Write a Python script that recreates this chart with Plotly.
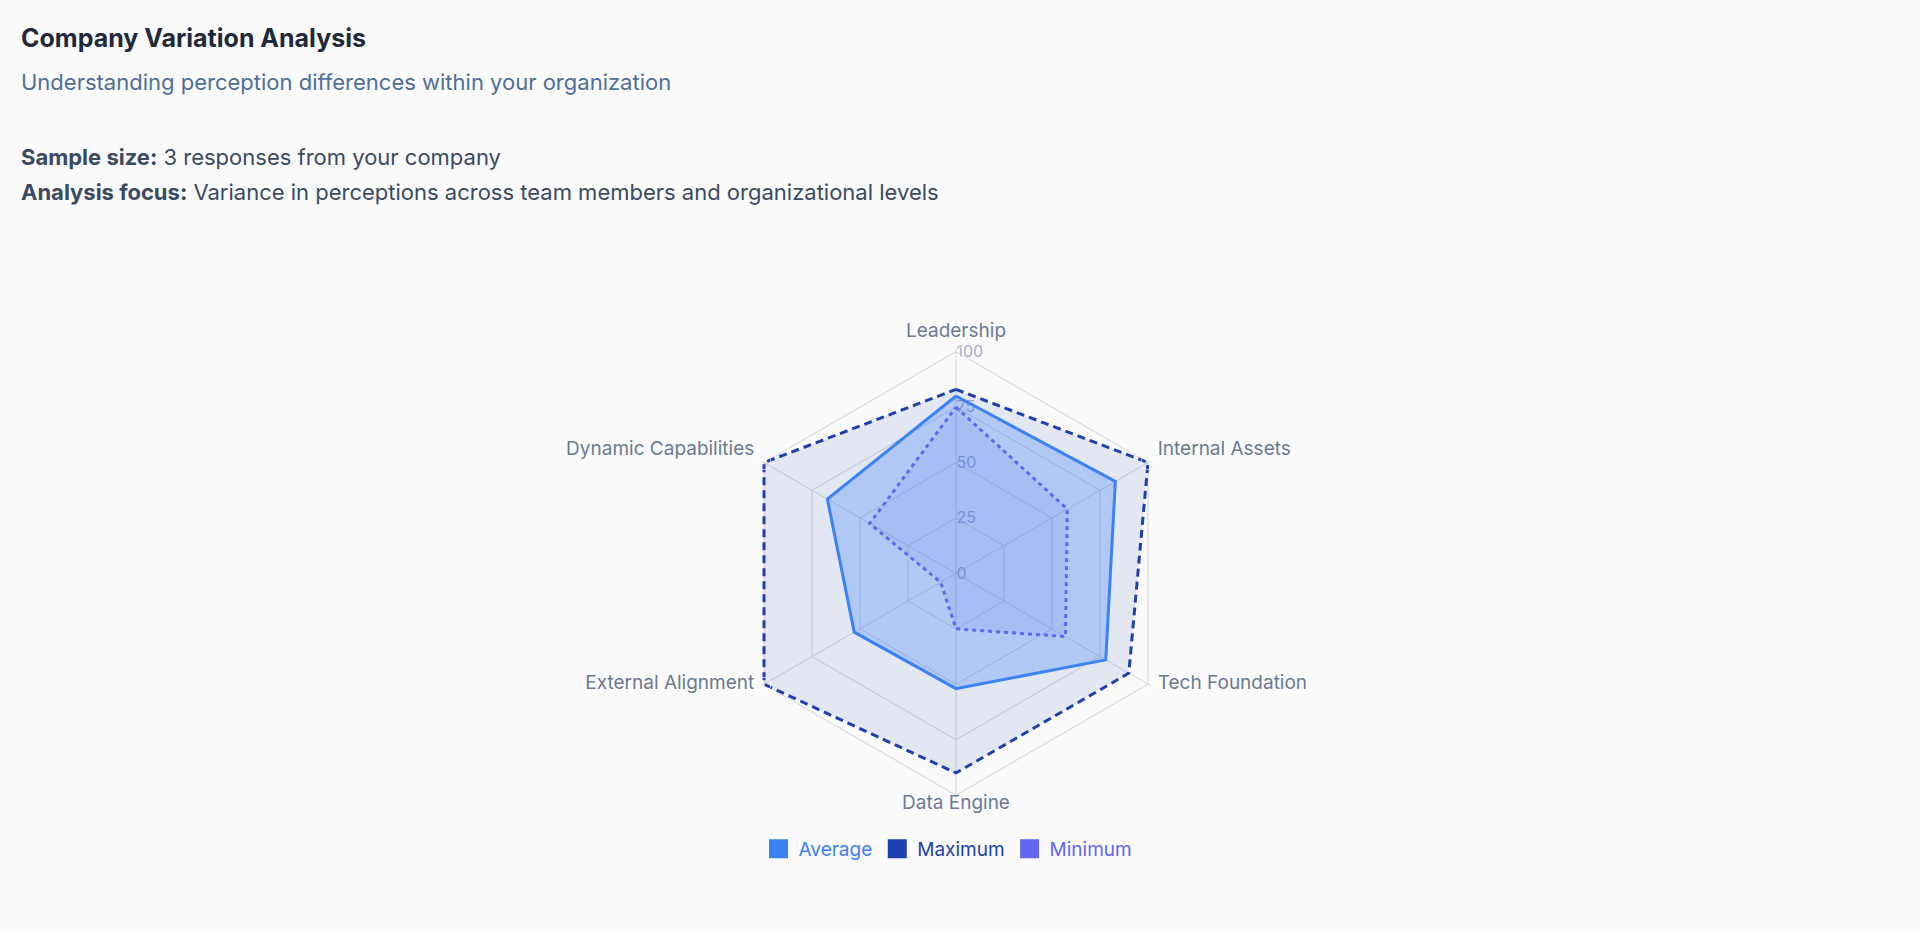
import plotly.graph_objects as go

categories = ["Leadership", "Internal Assets", "Tech Foundation", "Data Engine",
              "External Alignment", "Dynamic Capabilities"]
average = [80, 83, 78, 52, 53, 67]
maximum = [83, 100, 90, 90, 100, 100]
minimum = [75, 58, 57, 25, 8, 45]
radial_ticks = [0, 25, 50, 75, 100]

series_names = ["Average", "Maximum", "Minimum"]
series_colors = ["#3b82f6", "#1e40af", "#6366f1"]

# where each category label sits relative to its spoke tip
label_positions = ["top center", "middle right", "middle right", "bottom center",
                   "middle left", "middle left"]
label_raised = [False, True, False, False, False, True]   # lift label half a line
label_gap = [14, 14, 14, 0, 14, 14]                        # spacing from spoke tip

W, H = 1920, 931
FONT = "Inter, 'Noto Sans', sans-serif"
R_MAX = radial_ticks[-1]
R_PAD = 1.5          # small headroom so lines on the outer ring are not clipped

def closed(v):
    return list(v) + [v[0]]

theta = closed(categories)
label_texts = [c + ("<br>\u00a0" if up else "") for c, up in zip(categories, label_raised)]

fig = go.Figure()

fig.add_trace(go.Scatterpolar(
    r=closed(maximum), theta=theta, mode="lines", fill="toself",
    fillcolor="rgba(30,64,175,0.10)",
    line=dict(color="#1e40af", width=3, dash="8px,5px"),
    showlegend=False, name="Maximum", hoverinfo="skip"))
fig.add_trace(go.Scatterpolar(
    r=closed(average), theta=theta, mode="lines", fill="toself",
    fillcolor="rgba(59,130,246,0.30)",
    line=dict(color="#3b82f6", width=3),
    showlegend=False, name="Average", hoverinfo="skip"))
fig.add_trace(go.Scatterpolar(
    r=closed(minimum), theta=theta, mode="lines", fill="toself",
    fillcolor="rgba(99,102,241,0.10)",
    line=dict(color="#6366f1", width=3, dash="4px,4px"),
    showlegend=False, name="Minimum", hoverinfo="skip"))

# category labels at the spoke tips
fig.add_trace(go.Scatterpolar(
    r=[R_MAX] * len(categories), theta=categories, mode="markers+text",
    text=label_texts, textposition=label_positions, cliponaxis=False,
    marker=dict(size=label_gap, color="rgba(0,0,0,0)"),
    textfont=dict(size=19, color="#6b7a92", family=FONT),
    showlegend=False, hoverinfo="skip"))

# legend entries (square swatches, coloured labels)
for nm, col in zip(series_names, series_colors):
    fig.add_trace(go.Scatterpolar(
        r=[None], theta=[categories[0]], mode="markers",
        marker=dict(symbol="square", size=16, color=col,
                    line=dict(color=col, width=3)),
        name=f"<span style='color:{col}'>{nm}</span>", showlegend=True))

cx, cy = 956, 573.4
R = 221.7 * (R_MAX + R_PAD) / R_MAX
fig.update_layout(
    width=W, height=H,
    margin=dict(l=0, r=0, t=0, b=0),
    paper_bgcolor="#fafafa",
    plot_bgcolor="#fafafa",
    font=dict(family=FONT),
    polar=dict(
        domain=dict(x=[(cx - R) / W, (cx + R) / W],
                    y=[1 - (cy + R) / H, 1 - (cy - R) / H]),
        bgcolor="rgba(0,0,0,0)",
        gridshape="linear",
        radialaxis=dict(
            range=[0, R_MAX + R_PAD], tickvals=radial_ticks,
            angle=90, side="clockwise", tickangle=90,
            showline=False, ticks="", layer="below traces",
            gridcolor="#d2d4d9", gridwidth=1,
            tickfont=dict(size=16, color="#a2adc4", family=FONT),
        ),
        angularaxis=dict(
            direction="clockwise", rotation=90, layer="below traces",
            showline=False,
            gridcolor="#d2d4d9", gridwidth=1, ticks="",
            showticklabels=False,
        ),
    ),
    legend=dict(
        orientation="h", x=948 / W, xanchor="center", y=1 - 849 / H, yanchor="middle",
        font=dict(size=19, family=FONT), bgcolor="rgba(0,0,0,0)",
    ),
    annotations=[
        dict(text="<b>Company Variation Analysis</b>", x=19 / W, y=1 - 38 / H,
             xref="paper", yref="paper", xanchor="left", yanchor="middle",
             showarrow=False, font=dict(size=25, color="#1e293b", family=FONT)),
        dict(text="Understanding perception differences within your organization",
             x=19 / W, y=1 - 82 / H, xref="paper", yref="paper",
             xanchor="left", yanchor="middle", showarrow=False,
             font=dict(size=22, color="#4f6f97", family=FONT)),
        dict(text="<b>Sample size:</b> 3 responses from your company",
             x=19 / W, y=1 - 157 / H, xref="paper", yref="paper",
             xanchor="left", yanchor="middle", showarrow=False,
             font=dict(size=22, color="#3b4a60", family=FONT)),
        dict(text="<b>Analysis focus:</b> Variance in perceptions across team members and organizational levels",
             x=19 / W, y=1 - 192 / H, xref="paper", yref="paper",
             xanchor="left", yanchor="middle", showarrow=False,
             font=dict(size=22, color="#3b4a60", family=FONT)),
    ],
)

fig.write_html("out.html")
